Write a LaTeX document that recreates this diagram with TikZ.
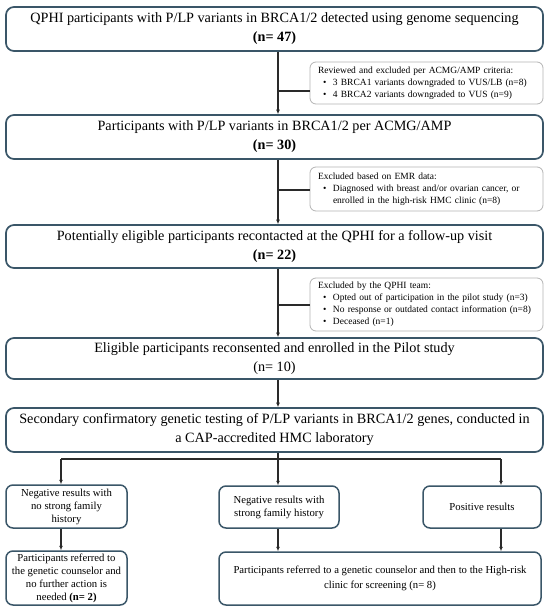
\documentclass[tikz,border=0pt]{standalone}
\usepackage{fontspec}
\setmainfont{Liberation Serif}
\usetikzlibrary{arrows.meta,calc}
\definecolor{mainbd}{HTML}{3A5668}
\definecolor{sidebd}{HTML}{B4B4B4}
\definecolor{connc}{HTML}{2A2A2A}
\newcommand{\bitem}{\hspace*{10pt}\makebox[10pt][l]{\textbullet}}
\newcommand{\bcont}{\hspace*{20pt}}
\newcommand{\bhead}{\hspace*{5pt}}
\tikzset{
 mainbox/.style={draw=mainbd, line width=1.7pt, rounded corners=8pt, align=center,
   font=\fontsize{14.2}{19}\selectfont, inner sep=0pt, minimum width=537pt},
 sidebox/.style={draw=sidebd, line width=0.8pt, rounded corners=6pt,
   font=\fontsize{9.5}{12}\selectfont, inner xsep=3pt, inner ysep=0pt,
   text width=227pt, align=left},
 smallbox/.style={draw=mainbd, line width=1.5pt, rounded corners=7pt, align=center,
   font=\fontsize{10.7}{13}\selectfont, inner sep=0pt},
 connline/.style={draw=connc, line width=1.1pt},
 arr/.style={connline, -{Latex[length=4.5pt,width=4pt]}},
}
\begin{document}
\begin{tikzpicture}[x=1pt,y=-1pt]
\useasboundingbox[fill=white] (0,0) rectangle (550,611);
% main boxes
\node[mainbox, minimum height=44pt] (b1) at (274.5,29)
  {QPHI participants with P/LP variants in BRCA1/2 detected using genome sequencing\\ \textbf{(n= 47)}};
\node[mainbox, minimum height=44pt] (b2) at (274.5,137)
  {Participants with P/LP variants in BRCA1/2 per ACMG/AMP\\ \textbf{(n= 30)}};
\node[mainbox, minimum height=43pt] (b3) at (274.5,246.5)
  {Potentially eligible participants recontacted at the QPHI for a follow-up visit\\ \textbf{(n= 22)}};
\node[mainbox, minimum height=41pt] (b4) at (274.5,358.5)
  {Eligible participants reconsented and enrolled in the Pilot study\\ (n= 10)};
\node[mainbox, minimum height=44pt] (b5) at (274.5,430)
  {Secondary confirmatory genetic testing of P/LP variants in BRCA1/2 genes, conducted in\\ a CAP-accredited HMC laboratory};
% side boxes
\node[sidebox, minimum height=42pt] (s1) at (426.5,83)
  {\bhead Reviewed and excluded per ACMG/AMP criteria:\\
   \bitem 3 BRCA1 variants downgraded to VUS/LB (n=8)\\
   \bitem 4 BRCA2 variants downgraded to VUS (n=9)};
\node[sidebox, minimum height=44pt] (s2) at (426.5,189)
  {\bhead Excluded based on EMR data:\\
   \bitem Diagnosed with breast and/or ovarian cancer, or\\
   \bcont enrolled in the high-risk HMC clinic (n=8)};
\node[sidebox, minimum height=53pt] (s3) at (426.5,304.5)
  {\bhead Excluded by the QPHI team:\\
   \bitem Opted out of participation in the pilot study (n=3)\\
   \bitem No response or outdated contact information (n=8)\\
   \bitem Deceased (n=1)};
% lower boxes
\node[smallbox, minimum width=121pt, minimum height=43pt] (l1) at (66.5,506.5)
  {Negative results with\\ no strong family\\ history};
\node[smallbox, minimum width=120pt, minimum height=42pt] (m1) at (279,507)
  {Negative results with\\ strong family history};
\node[smallbox, minimum width=118pt, minimum height=42pt] (r1) at (482,507)
  {Positive results};
\node[smallbox, minimum width=121pt, minimum height=54pt] (l2) at (66.5,578)
  {Participants referred to\\ the genetic counselor and\\ no further action is\\ needed \textbf{(n= 2)}};
\node[smallbox, font=\fontsize{10.7}{15}\selectfont, minimum width=322pt, minimum height=53pt] (rb) at (380,578.5)
  {Participants referred to a genetic counselor and then to the High-risk\\ clinic for screening (n= 8)};
% connectors
\coordinate (spine) at (278,0);
\draw[arr] (b1.south -| spine) -- (b2.north -| spine);
\draw[arr] (b2.south -| spine) -- (b3.north -| spine);
\draw[arr] (b3.south -| spine) -- (b4.north -| spine);
\draw[arr] (b4.south -| spine) -- (b5.north -| spine);
\coordinate (br1) at (278,91);
\coordinate (br2) at (278,190);
\coordinate (br3) at (278,305);
\draw[connline] (br1) -- (br1 -| s1.west);
\draw[connline] (br2) -- (br2 -| s2.west);
\draw[connline] (br3) -- (br3 -| s3.west);
\coordinate (hm) at (278,459);
\coordinate (hL) at (61,459);
\coordinate (hR) at (501,459);
\draw[connline] (b5.south -| spine) -- (hm);
\draw[connline] (hL) -- (hR);
\draw[arr] (hL) -- (hL |- l1.north);
\draw[arr] (hm) -- (hm |- m1.north);
\draw[arr] (hR) -- (hR |- r1.north);
\draw[arr] (l1.south -| hL) -- (l2.north -| hL);
\draw[arr] (m1.south -| hm) -- (rb.north -| hm);
\draw[arr] (r1.south -| hR) -- (rb.north -| hR);
\end{tikzpicture}
\end{document}
